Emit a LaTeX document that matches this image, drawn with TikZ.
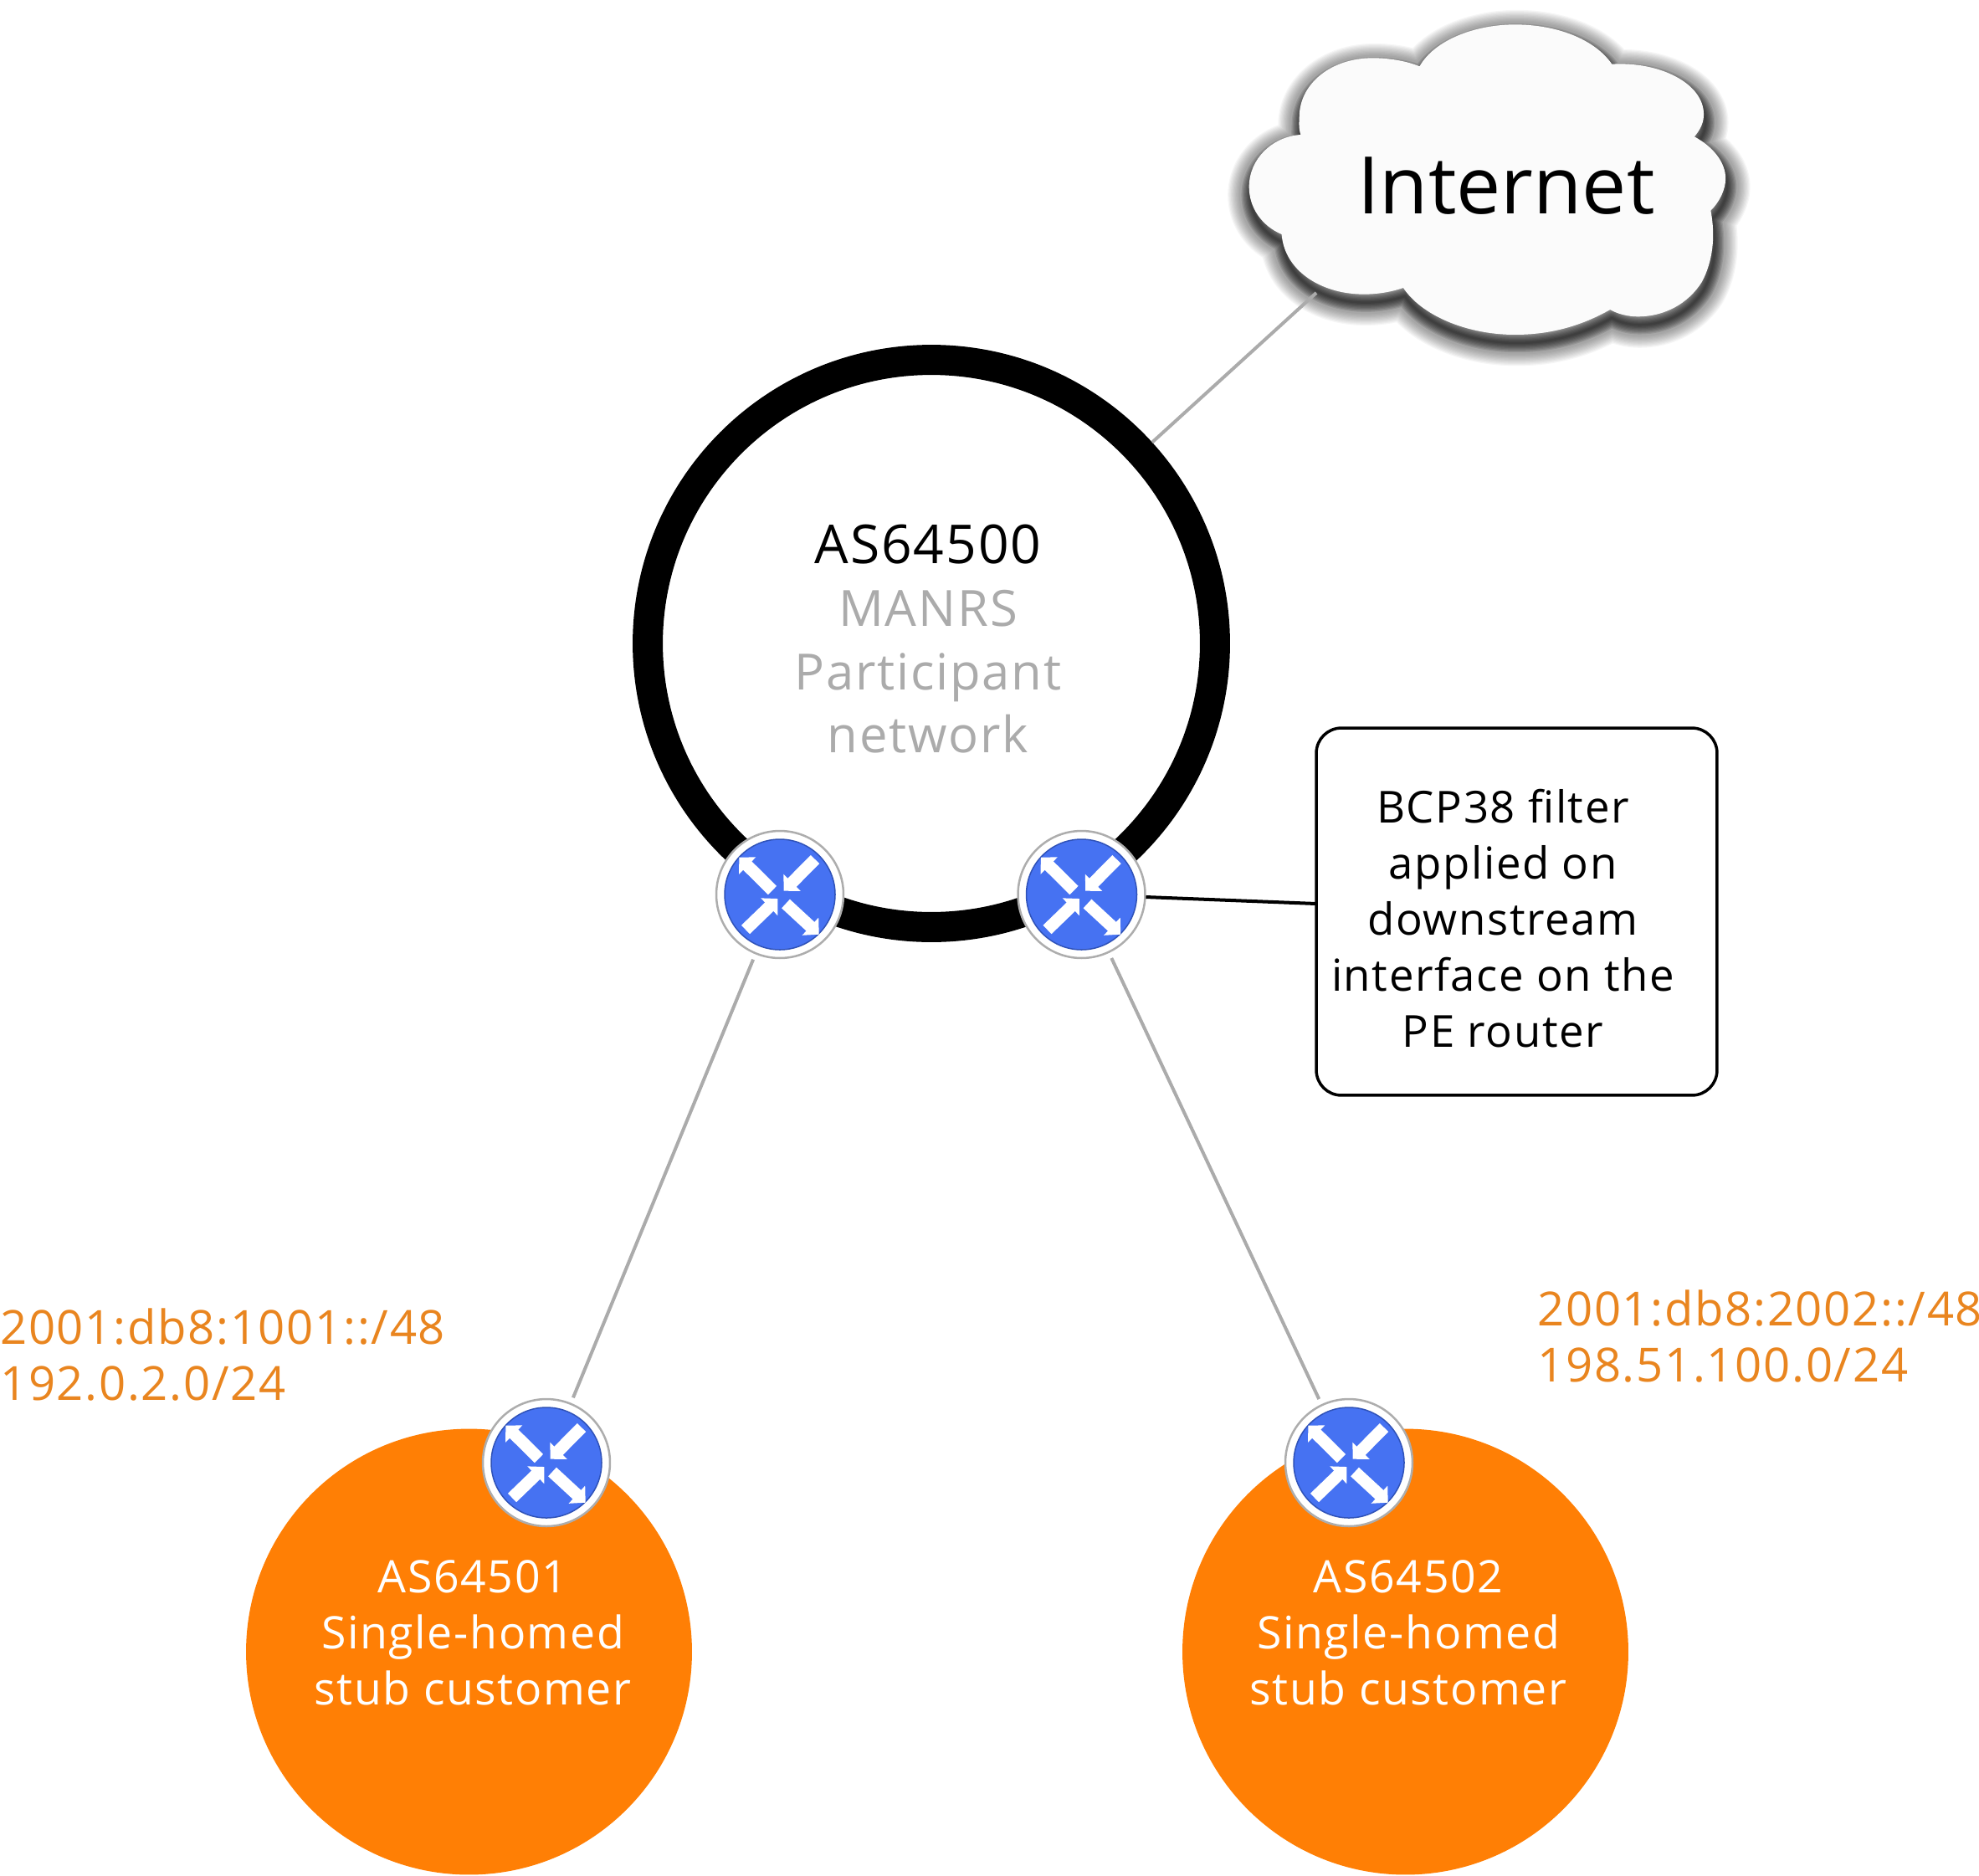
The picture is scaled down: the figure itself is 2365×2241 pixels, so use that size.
\documentclass[tikz,border=0pt]{standalone}
\usepackage{fontspec}
\usetikzlibrary{arrows.meta}
\setmainfont[LetterSpace=3]{Open Sans}
\newfontfamily\cloudfont{Open Sans}
\definecolor{routerblue}{HTML}{4672F2}
\definecolor{routerrim}{HTML}{2F52B8}
\definecolor{custorange}{HTML}{FF7F05}
\definecolor{labelorange}{HTML}{E9851F}
\definecolor{linegray}{HTML}{ABABAB}
\definecolor{cloudwhite}{HTML}{FBFBFB}
\tikzset{
  x=0.02cm,y=-0.02cm,
  routerbody/.style={circle,fill=white,draw=black!32,line width=0.05cm,minimum size=3.04cm,inner sep=0pt,outer sep=0.16cm},
  routerdisc/.style={fill=routerblue,draw=routerrim,line width=0.03cm},
  flowarrow/.style={draw=white,line width=0.29cm,-{Triangle[width=0.56cm,length=0.28cm]}},
  link/.style={draw=linegray,line width=0.08cm},
  custcircle/.style={circle,fill=custorange,minimum size=10.66cm,inner sep=0pt},
  whitetext/.style={text=white,align=center,font=\fontsize{30.5}{38.1}\selectfont,inner sep=0pt},
  orangetext/.style={text=labelorange,align=left,anchor=west,font=\fontsize{32}{38.1}\selectfont,inner sep=0pt},
  cloudshadow/.style={black,line join=round,yshift=-0.2cm,xshift=0.04cm},
}
\newcommand\router[3]{%
  \node[routerbody] (#1) at (#2,#3) {};
  \begin{scope}[shift={(#2,#3)}]
    \path[routerdisc] (0,0) circle[radius=66];
    \draw[flowarrow] (-9,-5) -- (-48.7,-44.3);
    \draw[flowarrow] (42,-42) -- (4.7,-4.3);
    \draw[flowarrow] (-41,42) -- (-2.7,5);
    \draw[flowarrow] (7,11) -- (46.7,47.7);
  \end{scope}%
}
\newcommand\cloudpath{(595,238) .. controls (640,140) and (760,88) .. (870,88)
  .. controls (990,88) and (1100,140) .. (1150,230)
  .. controls (1290,220) and (1415,300) .. (1415,410)
  .. controls (1415,440) and (1405,465) .. (1388,490)
  .. controls (1440,525) and (1478,580) .. (1478,640)
  .. controls (1478,680) and (1460,725) .. (1435,755)
  .. controls (1450,850) and (1440,940) .. (1410,1010)
  .. controls (1370,1090) and (1300,1135) .. (1225,1135)
  .. controls (1195,1135) and (1165,1125) .. (1145,1110)
  .. controls (1060,1170) and (970,1200) .. (870,1200)
  .. controls (730,1200) and (600,1130) .. (548,1032)
  .. controls (510,1048) and (470,1055) .. (435,1055)
  .. controls (310,1055) and (205,970) .. (197,840)
  .. controls (140,810) and (103,745) .. (103,670)
  .. controls (103,570) and (170,490) .. (252,483)
  .. controls (245,460) and (248,430) .. (248,420)
  .. controls (248,300) and (340,208) .. (460,208)
  .. controls (510,208) and (560,220) .. (595,238) -- cycle}
\begin{document}
\begin{tikzpicture}
\useasboundingbox (0,0) rectangle (2365,2241);
% customer circles
\node[custcircle] (custA) at (560.5,1974) {};
\node[custcircle] (custB) at (1679.5,1974) {};
% cloud
\begin{scope}[shift={(1450,0)},x=0.00829cm,y=-0.00667cm]
  \foreach \w in {1.1,1.05,...,0.5}
    \draw[cloudshadow,opacity=0.035,line width=\w cm] \cloudpath;
  \foreach \w in {0.45,0.4,...,0.02}
    \draw[cloudshadow,opacity=0.1,line width=\w cm] \cloudpath;
  \fill[cloudwhite] \cloudpath;
\end{scope}
\node[font=\cloudfont\fontsize{54}{60}\selectfont,inner sep=0pt] (internet) at (1800,222) {Internet};
\coordinate (cloudfoot) at (1573,350);
% main ring
\node[circle,draw=black,fill=white,line width=0.72cm,minimum size=13.56cm,inner sep=0pt] (ring) at (1113,769) {};
\node[align=center,inner sep=0pt,font=\fontsize{34}{43}\selectfont] (ringlabel) at (1109,763.5)
  {{\fontsize{36.5}{43}\selectfont AS64500}\\ \textcolor{linegray}{MANRS}\\ \textcolor{linegray}{Participant}\\ \textcolor{linegray}{network}};
% routers
\router{peA}{932}{1069}
\router{peB}{1292.5}{1069}
\router{ceA}{653}{1748}
\router{ceB}{1612}{1748}
% filter box
\node[draw=black,fill=white,line width=0.07cm,rounded corners=0.6cm,minimum width=9.58cm,minimum height=8.78cm,inner sep=0pt] (filter) at (1812.5,1089.5) {};
\node[align=center,inner sep=0pt,font=\fontsize{30}{38.1}\selectfont] (filterlabel) at (1796,1097.5)
  {BCP38 filter\\ applied on\\ downstream\\ interface on the\\ PE router};
\coordinate (filterfoot) at (1573,1080);
% connectors
\draw[link] (ring) -- (cloudfoot);
\draw[link] (peA) -- (ceA);
\draw[link] (peB) -- (ceB);
\draw[black,line width=0.08cm,shorten <=1.54cm] (peB.center) -- (filterfoot);
% labels
\node[whitetext] (custAlabel) at (565,1951) {AS64501\\ Single-homed\\ stub customer};
\node[whitetext] (custBlabel) at (1683,1951) {AS64502\\ Single-homed\\ stub customer};
\node[orangetext] (prefixA) at (0,1619) {2001:db8:1001::/48\\ 192.0.2.0/24};
\node[orangetext] (prefixB) at (1837,1597) {2001:db8:2002::/48\\ 198.51.100.0/24};
\end{tikzpicture}
\end{document}
